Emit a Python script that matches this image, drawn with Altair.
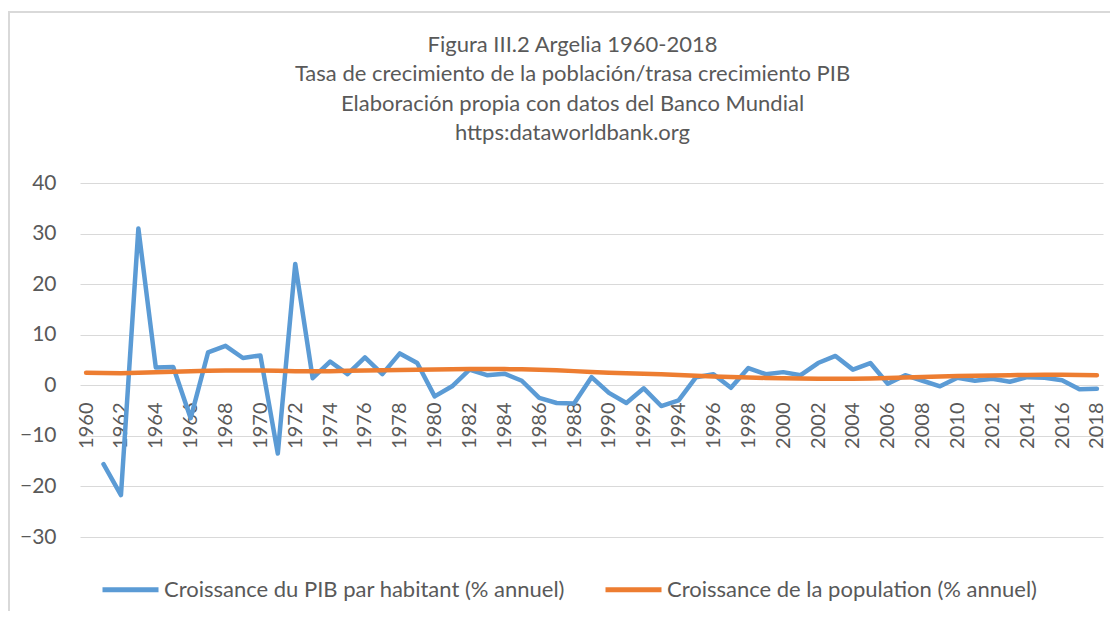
import altair as alt
import pandas as pd

years = list(range(1960, 2019))

pib = [None, -15.6, -21.7, 31.0, 3.5, 3.6, -6.5, 6.5, 7.8, 5.4,
       5.9, -13.5, 24.0, 1.4, 4.7, 2.2, 5.5, 2.2, 6.3, 4.4,
       -2.2, -0.2, 3.1, 2.0, 2.3, 0.9, -2.5, -3.5, -3.6, 1.6,
       -1.5, -3.5, -0.6, -4.1, -3.0, 1.6, 2.2, -0.5, 3.4, 2.2,
       2.6, 2.0, 4.4, 5.8, 3.1, 4.4, 0.3, 2.0, 0.9, -0.2,
       1.5, 0.9, 1.3, 0.7, 1.6, 1.5, 1.0, -0.8, -0.7]

pop = [2.5, 2.45, 2.4, 2.5, 2.6, 2.7, 2.8, 2.85, 2.9, 2.9,
       2.9, 2.85, 2.8, 2.8, 2.8, 2.85, 2.9, 2.95, 3.0, 3.05,
       3.1, 3.15, 3.2, 3.2, 3.2, 3.15, 3.05, 2.95, 2.8, 2.65,
       2.5, 2.4, 2.3, 2.2, 2.05, 1.9, 1.75, 1.65, 1.55, 1.45,
       1.4, 1.35, 1.3, 1.3, 1.3, 1.35, 1.45, 1.55, 1.65, 1.75,
       1.85, 1.9, 1.95, 2.0, 2.05, 2.1, 2.1, 2.05, 2.0]

s1 = "Croissance du PIB par habitant (% annuel)"
s2 = "Croissance de la population (% annuel)"

title_lines = ["Figura III.2 Argelia 1960-2018",
               "Tasa de crecimiento de la población/trasa crecimiento PIB",
               "Elaboración propia con datos del Banco Mundial",
               "https:dataworldbank.org"]

x_ticks = list(range(1960, 2019, 2))
y_ticks = [-30, -20, -10, 0, 10, 20, 30, 40]

rows = []
for y, v in zip(years, pib):
    if v is not None:
        rows.append({"year": y, "value": v, "series": s1})
for y, v in zip(years, pop):
    rows.append({"year": y, "value": v, "series": s2})
df = pd.DataFrame(rows)

FONT = "Lato"
GRAY = "#595959"

W, H = 1023, 354

lines = alt.Chart(df).mark_line(strokeWidth=4.5, strokeJoin="round", strokeCap="round").encode(
    x=alt.X("year:Q",
            scale=alt.Scale(domain=[1959.65, 2018.35], nice=False, zero=False),
            axis=alt.Axis(values=x_ticks, format="d", labelAngle=270, offset=-152,
                          domain=False, ticks=False, grid=False, labelPadding=17,
                          labelFontSize=20, labelColor=GRAY, labelFont=FONT,
                          title=None, labelOverlap=False)),
    y=alt.Y("value:Q",
            scale=alt.Scale(domain=[-30, 40], nice=False),
            axis=alt.Axis(values=y_ticks, domain=False, ticks=False, grid=True,
                          gridColor="#D9D9D9", gridWidth=1, labelPadding=24,
                          labelFontSize=21, labelColor=GRAY, labelFont=FONT,
                          title=None)),
    color=alt.Color("series:N",
                    scale=alt.Scale(domain=[s1, s2], range=["#5B9BD5", "#ED7D31"]),
                    legend=alt.Legend(orient="none", legendX=20, legendY=376,
                                      direction="horizontal", title=None,
                                      symbolType="stroke", symbolSize=3136,
                                      symbolStrokeWidth=5, labelFontSize=22,
                                      labelFont=FONT, labelColor=GRAY,
                                      columnPadding=30, labelOffset=3,
                                      labelLimit=600)),
    order="year:Q",
)

frame_top = alt.Chart(df).mark_rule(color="#D9D9D9", strokeWidth=2).encode(
    x=alt.value(-72), x2=alt.value(W + 10), y=alt.value(-171))
frame_left = alt.Chart(df).mark_rule(color="#D9D9D9", strokeWidth=2).encode(
    x=alt.value(-71), y=alt.value(-171), y2=alt.value(H + 80))

chart = alt.layer(frame_top, frame_left, lines).properties(
    width=W, height=H,
    autosize=alt.AutoSizeParams(type="none"),
    padding={"left": 72, "top": 175, "right": 7, "bottom": 74},
    title=alt.TitleParams(text=title_lines, fontSize=22, font=FONT, color=GRAY,
                          fontWeight="normal", lineHeight=29.5, anchor="middle",
                          frame="group", dx=-19, offset=-134),
).configure_view(stroke=None)

chart.save("out.html", embed_options={"renderer": "svg", "actions": False})
